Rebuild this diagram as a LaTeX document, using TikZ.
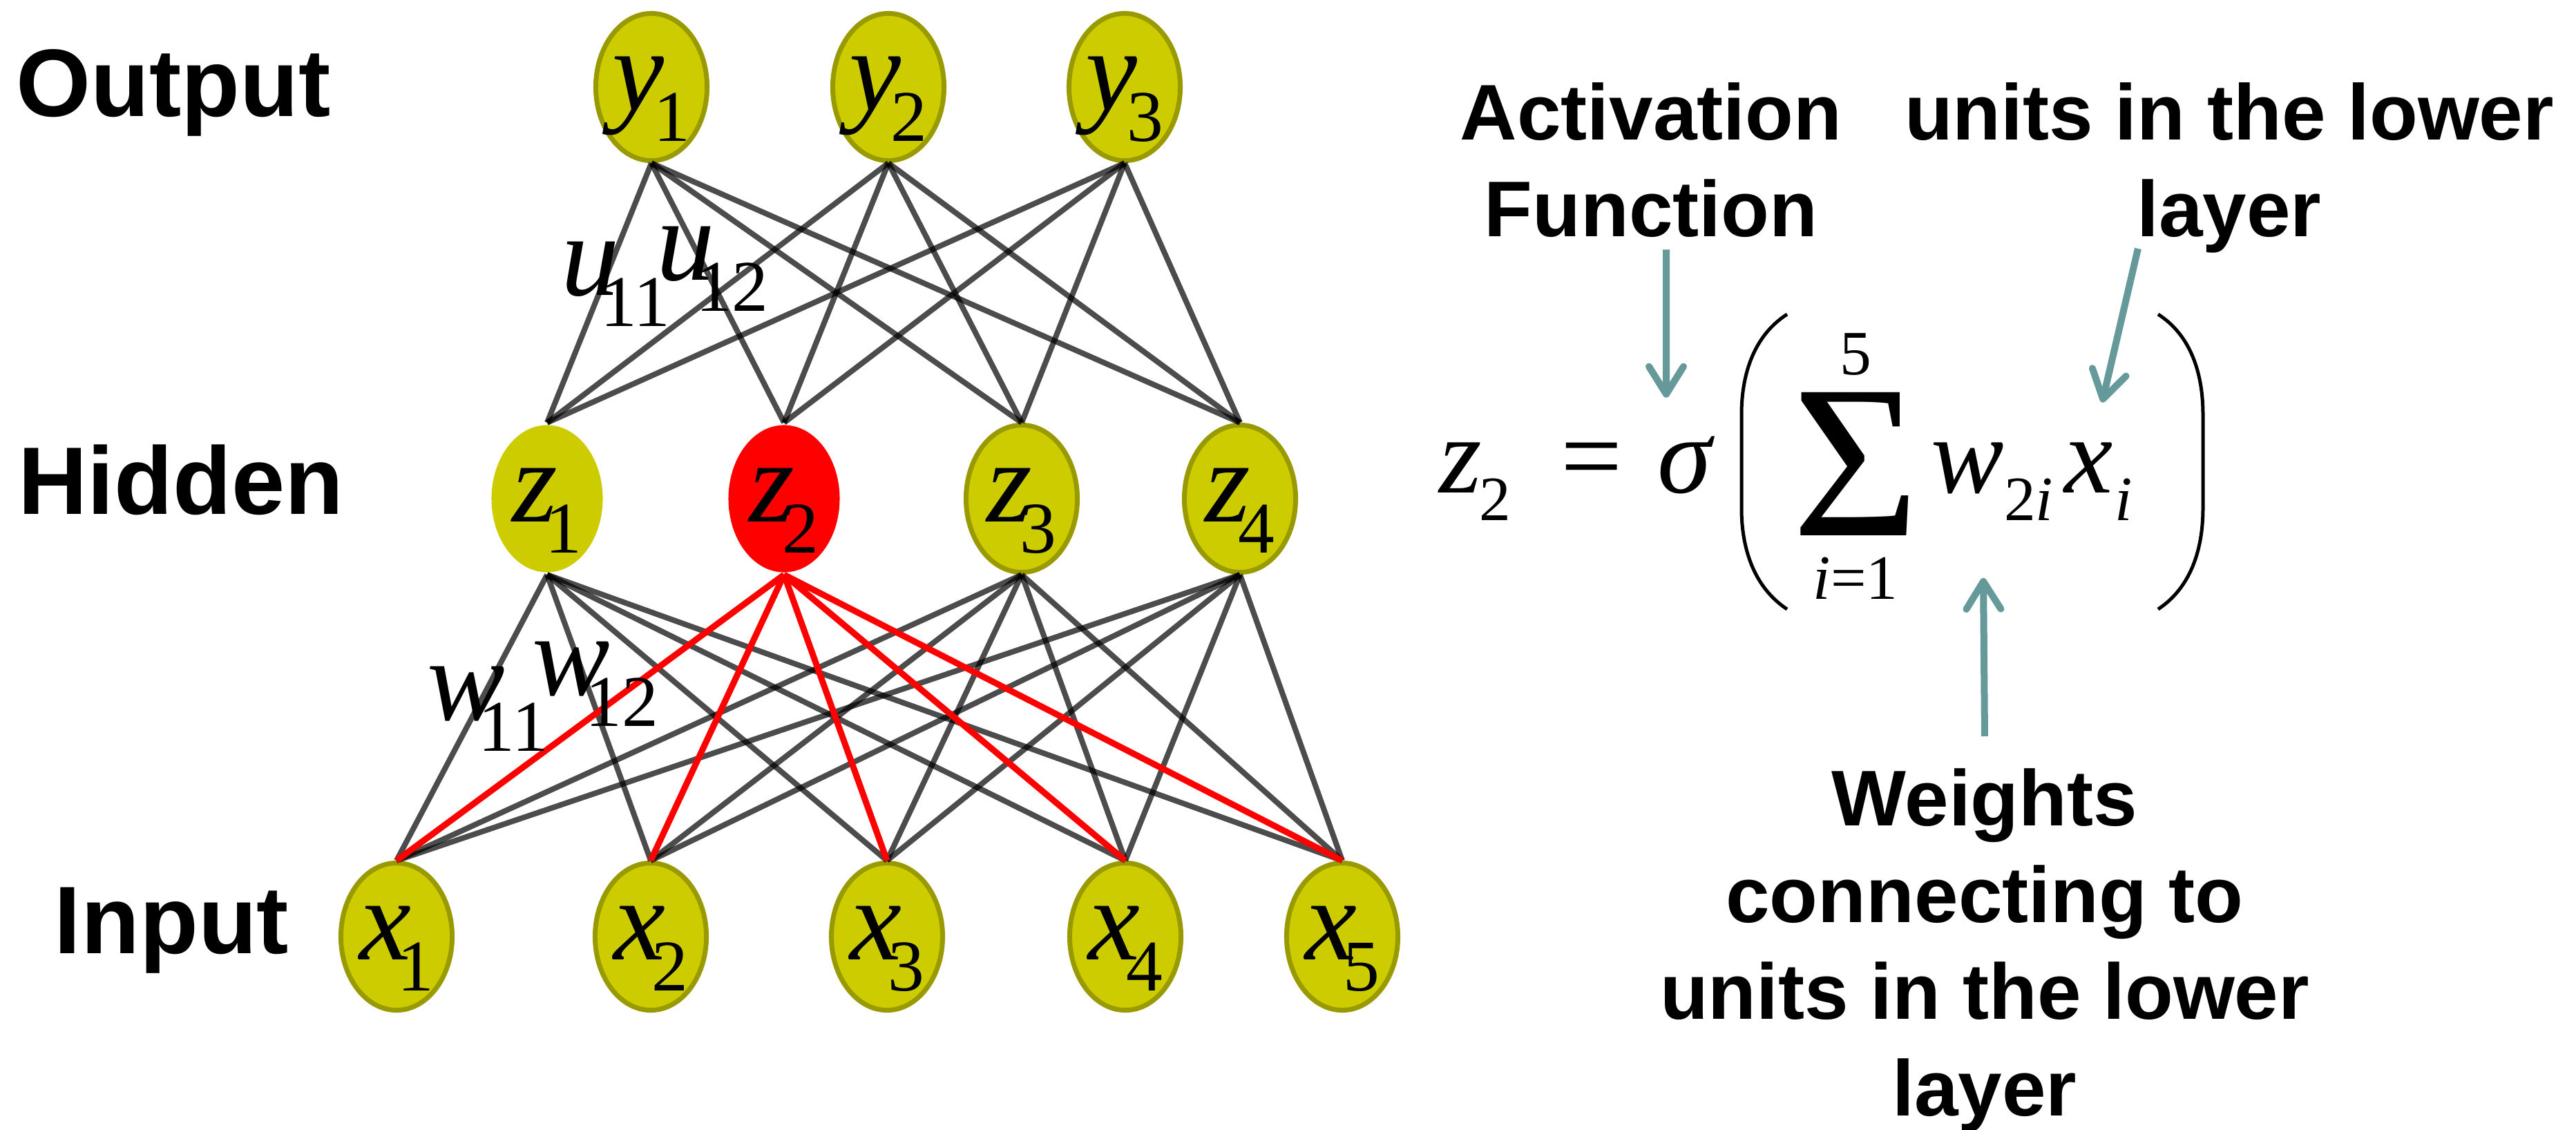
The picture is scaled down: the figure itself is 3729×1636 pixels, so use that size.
\documentclass[tikz,border=0pt]{standalone}
\usepackage{fontspec}
\setmainfont{Liberation Sans}
\newfontfamily\tms{Liberation Serif}
\usetikzlibrary{arrows.meta,shapes.geometric}

\definecolor{unitfill}{RGB}{204,204,0}
\definecolor{unitedge}{RGB}{153,153,0}
\definecolor{pointer}{RGB}{102,153,153}

% italic symbol with a lowered upright index (units and weights)
\newcommand\unitlab[3]{{\itshape #2}\kern#1\raisebox{-0.45cm}{\fontsize{30}{30}\selectfont #3}}
% index inside the formula
\newcommand\fsub[2]{\kern#1\raisebox{-0.40cm}{\fontsize{26}{26}\selectfont #2}}

\begin{document}
\begin{tikzpicture}[x=0.01cm,y=-0.01cm,
  unit/.style={ellipse, minimum width=1.61cm, minimum height=2.13cm, inner sep=0pt,
    fill=unitfill, draw=unitedge, line width=0.07cm,
    font=\tms\fontsize{48}{48}\selectfont, text height=0.66cm, text depth=0cm},
  plainunit/.style={unit, draw=none},
  hotunit/.style={unit, fill=red, draw=none},
  wire/.style={draw=black, opacity=0.7, line width=0.08cm},
  hot/.style={draw=red, line width=0.09cm},
  layername/.style={font=\bfseries\fontsize{39.5}{40}\selectfont, anchor=base west, inner sep=0pt},
  note/.style={font=\bfseries\fontsize{32.5}{39.8}\selectfont, align=center, anchor=north, inner sep=0pt},
  wlab/.style={font=\tms\fontsize{48}{48}\selectfont, anchor=base west, inner sep=0pt},
  fm/.style={font=\tms\fontsize{45}{45}\selectfont, inner sep=0pt},
  fs/.style={font=\tms\fontsize{26}{26}\selectfont, inner sep=0pt},
  pointerarrow/.style={draw=pointer, line width=0.1cm,
    -{Straight Barb[round, length=0.4cm, width=0.5cm]}}
]
\fill[white] (0,0) rectangle (3729,1636);
\useasboundingbox (0,0) rectangle (3729,1636);

% layer names
\node[layername] (lout) at (23,168) {Output};
\node[layername] (lhid) at (26,744) {Hidden};
\node[layername] (lin)  at (78,1380) {Input};

% output units
\node[unit] (y1) at (943,126) {\unitlab{-0.15cm}{y}{1}};
\node[unit] (y2) at (1286,126) {\unitlab{-0.15cm}{y}{2}};
\node[unit] (y3) at (1628,126) {\unitlab{-0.15cm}{y}{3}};

% hidden units
\node[plainunit] (z1) at (792,722) {\unitlab{-0.18cm}{z}{1}};
\node[hotunit]   (z2) at (1135,722) {\unitlab{-0.18cm}{z}{2}};
\node[unit]      (z3) at (1479,722) {\unitlab{-0.18cm}{z}{3}};
\node[unit]      (z4) at (1795,722) {\unitlab{-0.18cm}{z}{4}};

% input units
\node[unit] (x1) at (574,1356) {\unitlab{-0.2cm}{x}{1}};
\node[unit] (x2) at (942,1356) {\unitlab{-0.2cm}{x}{2}};
\node[unit] (x3) at (1284,1356) {\unitlab{-0.2cm}{x}{3}};
\node[unit] (x4) at (1629,1356) {\unitlab{-0.2cm}{x}{4}};
\node[unit] (x5) at (1943,1356) {\unitlab{-0.2cm}{x}{5}};

% connections output -> hidden
\foreach \o in {y1,y2,y3}
  \foreach \h in {z1,z2,z3,z4}
    \draw[wire] (\o.south) -- (\h.north);
% connections hidden -> input
\foreach \h in {z1,z3,z4}
  \foreach \i in {x1,x2,x3,x4,x5}
    \draw[wire] (\h.south) -- (\i.north);
\foreach \i in {x1,x2,x3,x4,x5}
  \draw[hot] (z2.south) -- (\i.north);

% weight labels
\node[wlab] (u11) at (812,427) {\unitlab{-0.28cm}{u}{11}};
\node[wlab] (u12) at (950,405) {\unitlab{-0.28cm}{u}{12}};
\node[wlab] (w11) at (618,1042) {\unitlab{-0.39cm}{w}{11}};
\node[wlab] (w12) at (770,1006) {\unitlab{-0.36cm}{w}{12}};

% formula
\node[fm, anchor=base west] (zz) at (2083,713) {\textit{z}\fsub{-0.04cm}{2}};
\node[fm, anchor=base] (eq) at (2304,713) {=};
\node[fm, anchor=base] (sig) at (2441,713) {\textit{σ}};
\node[font=\tms\fontsize{90}{90}\selectfont, anchor=base, inner sep=0pt] (sum) at (2687,775) {Σ};
\node[fs, anchor=base] (up) at (2686,542) {5};
\node[fs, anchor=base] (lo) at (2686,867) {\textit{i}=1};
\node[fm, anchor=base west] (wv) at (2795,713) {\textit{w}\fsub{0cm}{2\textit{i}}};
\node[fm, anchor=base west] (xv) at (2988,713) {\textit{x}\fsub{0.03cm}{\textit{i}}};
\draw[line width=0.05cm] (2587,455) .. controls (2540,485) and (2521,540) .. (2521,600)
  -- (2521,736) .. controls (2521,796) and (2540,851) .. (2587,882);
\draw[line width=0.05cm] (3124,455) .. controls (3171,485) and (3189,540) .. (3189,600)
  -- (3189,736) .. controls (3189,796) and (3171,851) .. (3124,882);

% annotations
\node[note] (act) at (2390,119) {Activation\\Function};
\node[note] (low) at (3227,119) {units in the lower\\layer};
\node[note] (wt)  at (2873,1112) {Weights\\connecting to\\units in the lower\\layer};

\draw[pointerarrow] ([xshift=0.22cm,yshift=-0.17cm]act.south) -- ([xshift=-0.29cm,yshift=0.55cm]sig.north);
\draw[pointerarrow] ([xshift=-1.32cm,yshift=0.07cm]low.south) -- ([xshift=0.05cm,yshift=0.57cm]xv.north);
\draw[pointerarrow] ([yshift=0.46cm]wt.north) -- ([xshift=-0.13cm,yshift=-0.83cm]wv.south);
\end{tikzpicture}
\end{document}
